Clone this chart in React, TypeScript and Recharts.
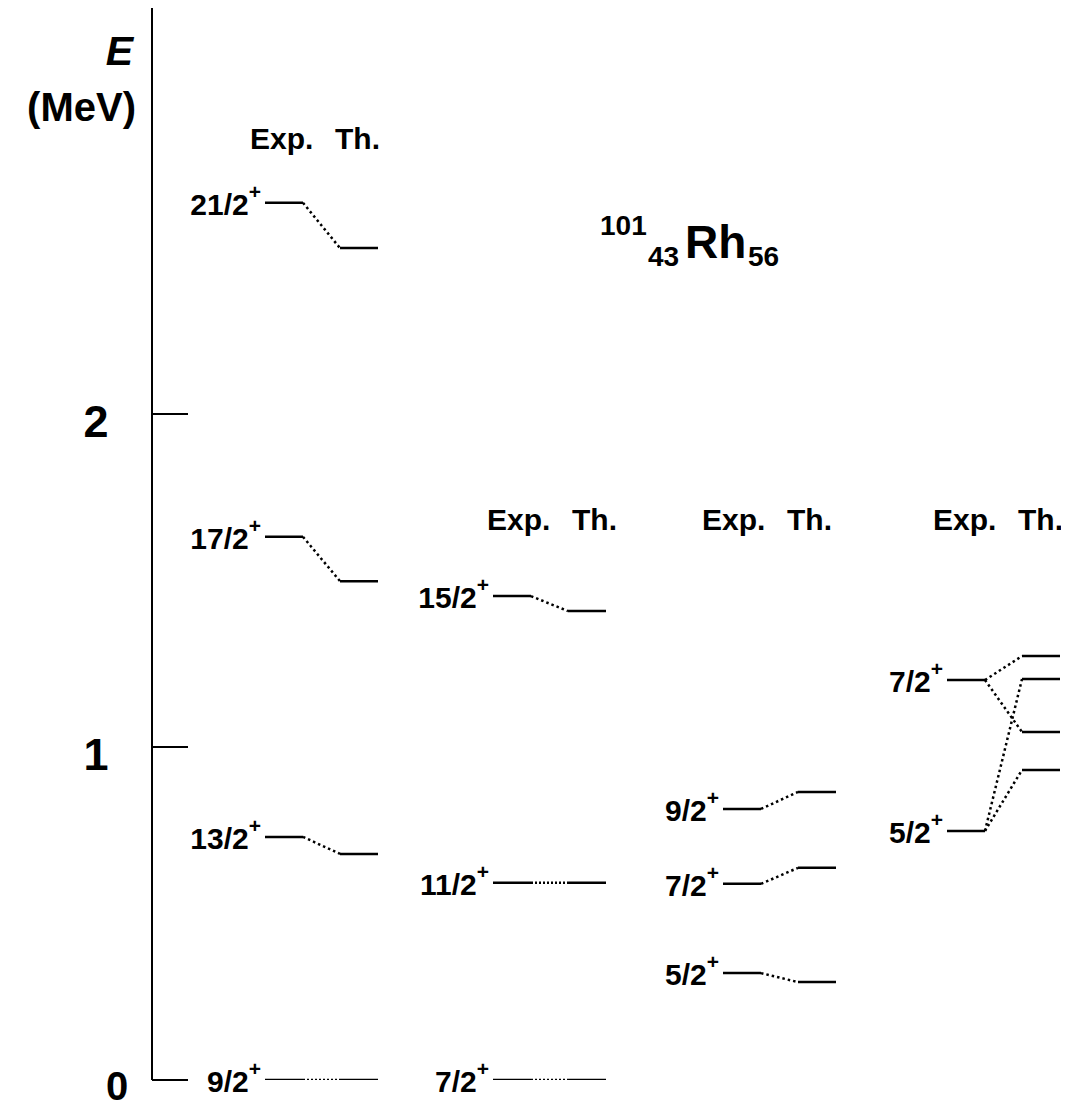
import React from 'react';
import { LineChart, Line, XAxis, YAxis } from 'recharts';

// level energies in MeV (Exp. / Th.)
const band1Spins = ['9/2', '13/2', '17/2', '21/2'];
const band1Exp = [0, 0.73, 1.631, 2.634];
const band1Th = [0, 0.679, 1.498, 2.498];

const band2Spins = ['7/2', '11/2', '15/2'];
const band2Exp = [0, 0.592, 1.453];
const band2Th = [0, 0.592, 1.408];

const band3Spins = ['5/2', '7/2', '9/2'];
const band3Exp = [0.321, 0.589, 0.814];
const band3Th = [0.294, 0.637, 0.865];

const band4Spins = ['5/2', '7/2'];
const band4Exp = [0.748, 1.201];
const band4Th = [0.931, 1.045, 1.204, 1.273];
// exp level index -> th level index
const band4Links = [[0, 0], [0, 2], [1, 1], [1, 3]];

const energyTicks = [0, 1, 2];

const bands = [
  { spins: band1Spins, exp: band1Exp, th: band1Th, links: null },
  { spins: band2Spins, exp: band2Exp, th: band2Th, links: null },
  { spins: band3Spins, exp: band3Exp, th: band3Th, links: null },
  { spins: band4Spins, exp: band4Exp, th: band4Th, links: band4Links },
];

// layout of the columns along the (hidden) x axis
const COL_X = [113, 341, 571, 795];
const LEVEL_LEN = 38;
const TH_OFFSET = 75;
const FONT = '"Liberation Sans", Arial, Helvetica, sans-serif';

const seg = (x0: number, x1: number, e0: number, e1: number) => [
  { x: x0, y: e0 },
  { x: x1, y: e1 },
];

function EnergyTick(props: any) {
  const { x, y, payload } = props;
  const zero = payload.value === 0;
  return (
    <g>
      <line x1={x} x2={x + 36} y1={y} y2={y} stroke="#000" strokeWidth={2} />
      <text
        x={zero ? x - 35 : x - 56}
        y={zero ? y + 20 : y + 23}
        textAnchor="middle"
        fontFamily={FONT}
        fontWeight="bold"
        fontSize={zero ? 40 : 45}
        fill="#000"
      >
        {payload.value}
      </text>
    </g>
  );
}

const spinLabel = (spin: string) => (p: any) => {
  if (p.index !== 0) return null;
  return (
    <text
      x={p.x - 4}
      y={p.y + 12}
      textAnchor="end"
      fontFamily={FONT}
      fontWeight="bold"
      fontSize={30}
      fill="#000"
    >
      {spin}
      <tspan dy={-16} fontSize={21}>+</tspan>
    </text>
  );
};

export default function App() {
  const lines: React.ReactNode[] = [];
  bands.forEach((b, c) => {
    const x0 = COL_X[c];
    const x1 = x0 + LEVEL_LEN;
    const t0 = x0 + TH_OFFSET;
    const t1 = t0 + LEVEL_LEN;
    b.exp.forEach((e, i) => {
      lines.push(
        <Line
          key={`exp-${c}-${i}`}
          data={seg(x0, x1, e, e)}
          dataKey="y"
          stroke="#000"
          strokeWidth={2.5}
          dot={false}
          activeDot={false}
          legendType="none"
          isAnimationActive={false}
          label={spinLabel(b.spins[i])}
        />
      );
    });
    b.th.forEach((e, i) => {
      lines.push(
        <Line
          key={`th-${c}-${i}`}
          data={seg(t0, t1, e, e)}
          dataKey="y"
          stroke="#000"
          strokeWidth={2.5}
          dot={false}
          activeDot={false}
          legendType="none"
          isAnimationActive={false}
        />
      );
    });
    const links = b.links ?? b.exp.map((_, i) => [i, i]);
    links.forEach(([i, j]) => {
      const e0 = b.exp[i];
      const e1 = b.th[j];
      lines.push(
        <Line
          key={`link-${c}-${i}-${j}`}
          data={seg(x1, t0, e0, e1)}
          dataKey="y"
          stroke="#000"
          strokeWidth={2.5}
          strokeDasharray={e0 === e1 ? '2 2' : '2.5 3'}
          dot={false}
          activeDot={false}
          legendType="none"
          isAnimationActive={false}
        />
      );
    });
  });

  const headers = [
    { x: 242, y: 141 },
    { x: 479, y: 522 },
    { x: 694, y: 522 },
    { x: 925, y: 522 },
  ];

  return (
    <div style={{ position: 'relative', width: 1061, height: 1102 }}>
      <LineChart width={1061} height={1102} margin={{ top: 0, right: 0, bottom: 30, left: 0 }}>
        <XAxis type="number" dataKey="x" domain={[0, 917]} allowDataOverflow hide />
        <YAxis
          type="number"
          domain={[0, 3.219]}
          ticks={energyTicks}
          interval={0}
          width={144}
          allowDataOverflow
          tickSize={0}
          tickMargin={0}
          tickLine={false}
          axisLine={{ stroke: '#000', strokeWidth: 2 }}
          tick={<EnergyTick />}
        />
        {lines}
      </LineChart>
      <svg
        width={1061}
        height={1102}
        style={{ position: 'absolute', left: 0, top: 0, pointerEvents: 'none' }}
      >
        <g fontFamily={FONT} fontWeight="bold" fill="#000">
          <text x={125} y={57} textAnchor="end" fontSize={41} fontStyle="italic">E</text>
          <text x={128} y={113} textAnchor="end" fontSize={40}>(MeV)</text>
          {headers.map((h, i) => (
            <g key={i}>
              <text x={h.x} y={h.y} fontSize={30}>Exp.</text>
              <text x={h.x + 85} y={h.y} fontSize={30}>Th.</text>
            </g>
          ))}
          <text x={592} y={227} fontSize={28}>101</text>
          <text x={640} y={258} fontSize={28}>43</text>
          <text x={677} y={250} fontSize={46}>Rh</text>
          <text x={740} y={258} fontSize={28}>56</text>
        </g>
      </svg>
    </div>
  );
}
